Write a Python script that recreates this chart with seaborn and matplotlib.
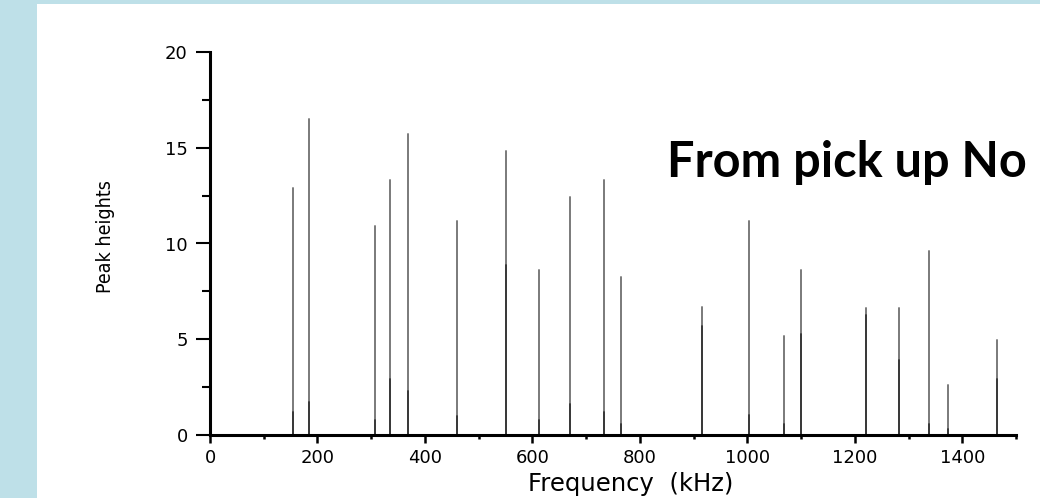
import pandas as pd
import matplotlib.pyplot as plt
import seaborn as sns
from matplotlib.patches import Rectangle
from matplotlib.ticker import MultipleLocator

# peak positions (kHz) and heights
peak_freq = [2, 153.8, 184.7, 307, 335.5, 368, 459, 551, 612, 670, 733.6, 764.7,
             916, 1003, 1069, 1099.5, 1221, 1282, 1338, 1374, 1465]
peak_height = [1.3, 12.9, 16.5, 10.9, 13.3, 15.7, 11.2, 14.85, 8.6, 12.45, 13.3, 8.25,
               6.7, 11.15, 5.15, 8.6, 6.65, 6.65, 9.6, 2.6, 4.95]
# darker lower part of each peak line
core_height = [1.3, 1.2, 1.7, 0.8, 2.9, 2.3, 1.0, 8.9, 0.8, 1.6, 1.2, 0.6,
               5.7, 1.05, 0.6, 5.3, 6.25, 3.9, 0.6, 0.3, 2.95]

x_ticks = [0, 200, 400, 600, 800, 1000, 1200, 1400]
y_ticks = [0, 5, 10, 15, 20]

rows = []
for i, (f, h, c) in enumerate(zip(peak_freq, peak_height, core_height)):
    rows.append({"peak": i, "freq": f, "height": 0.0, "core": 0.0})
    rows.append({"peak": i, "freq": f, "height": h, "core": c})
df = pd.DataFrame(rows)

sns.set_theme(style="ticks")
plt.rcParams["font.family"] = ["DejaVu Sans"]
plt.rcParams["text.color"] = "black"

fig = plt.figure(figsize=(10.4, 4.98), dpi=100, facecolor="#bee0e8")
fig.patches.append(Rectangle((37 / 1040, 0), 1, 494 / 498, transform=fig.transFigure,
                             facecolor="white", edgecolor="none", zorder=-10))

ax = fig.add_axes([210 / 1040, 63 / 498, 806 / 1040, 383 / 498])
ax.set_facecolor("none")
ax.set_zorder(5)

sns.lineplot(data=df, x="freq", y="height", units="peak", estimator=None, sort=False,
             color="#7a7a7a", lw=1.4, ax=ax, legend=False)
sns.lineplot(data=df, x="freq", y="core", units="peak", estimator=None, sort=False,
             color="#333333", lw=1.3, ax=ax, legend=False)

ax.set_xlim(0, 1500)
ax.set_ylim(0, 20)
ax.set_xticks(x_ticks)
ax.set_yticks(y_ticks)
ax.xaxis.set_minor_locator(MultipleLocator(100))
ax.yaxis.set_minor_locator(MultipleLocator(2.5))
sns.despine(ax=ax)
for s in ["left", "bottom"]:
    ax.spines[s].set_linewidth(2.2)
    ax.spines[s].set_color("black")

ax.tick_params(axis="y", which="major", length=10, width=1.5, pad=6, labelsize=13,
               color="black", labelcolor="black")
ax.tick_params(axis="y", which="minor", length=5.5, width=1.5, color="black")
ax.tick_params(axis="x", which="major", length=6, width=1.8, pad=4, labelsize=13,
               color="black", labelcolor="black")
ax.tick_params(axis="x", which="minor", length=3, width=1.8, color="black")

ax.set_xlabel("Frequency  (kHz)", fontsize=17.5, color="black")
ax.xaxis.label.set_va("center")
ax.xaxis.set_label_coords(0.522, -0.128)
ax.set_ylabel("Peak heights", fontsize=14, fontstretch="condensed", color="black")
ax.yaxis.label.set_va("center")
ax.yaxis.set_label_coords(-0.130, 0.517)

fig.text(667 / 1040, 1 - 177 / 498, "From pick up No", fontsize=35, fontweight="bold",
         family=["Lato", "DejaVu Sans"], ha="left", va="baseline", color="black", zorder=6)

fig.savefig("out.png", dpi=100, facecolor=fig.get_facecolor())
